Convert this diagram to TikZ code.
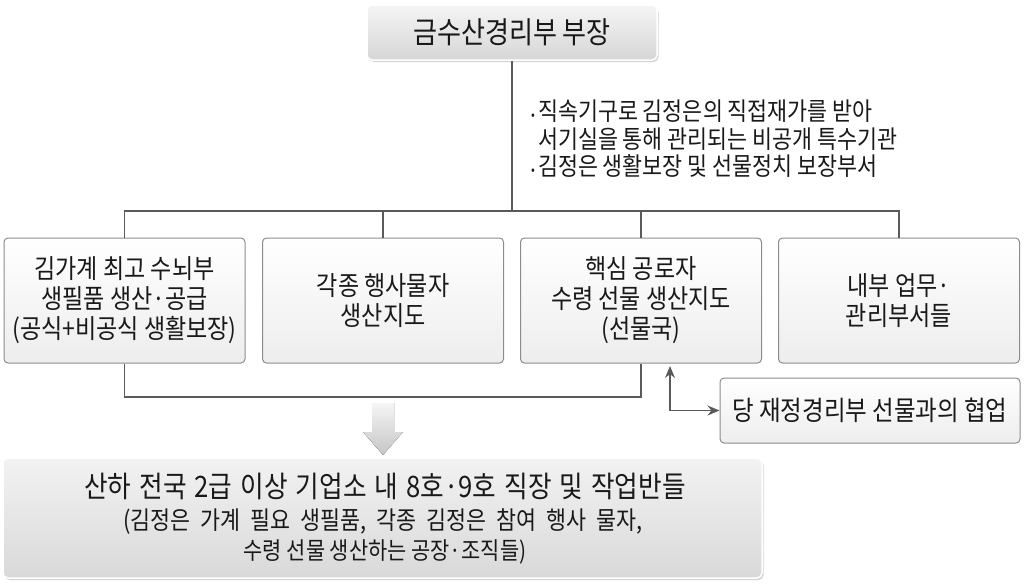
\documentclass[tikz,border=0pt]{standalone}
\usepackage{fontspec}
\setmainfont{Noto Sans CJK KR}[FakeStretch=0.87]
\usetikzlibrary{arrows.meta,shadows,calc}
\definecolor{lc}{HTML}{5A5A5A}
\definecolor{bc}{HTML}{8C8C8C}
\tikzset{
  conn/.style={draw=lc, line width=1.6pt},
  unitbox/.style={draw=bc, line width=1pt, rounded corners=4pt, top color=white, bottom color=gray!14,
    minimum width=241, minimum height=125, align=center, inner sep=0pt,
    font=\fontsize{26.5}{30}\selectfont, text=black!90},
  headbox/.style={draw=white, line width=1.5pt, rounded corners=5pt, top color=gray!8, bottom color=gray!32,
    minimum width=290, minimum height=55, inner sep=0pt, font=\fontsize{30}{32}\selectfont, text=black!90,
    drop shadow={shadow xshift=1.5pt, shadow yshift=-2pt, opacity=0.35}},
  basebox/.style={draw=white, line width=1.5pt, rounded corners=5pt, top color=gray!10, bottom color=gray!30,
    minimum width=759, minimum height=120, inner sep=0pt, align=center,
    drop shadow={shadow xshift=1.5pt, shadow yshift=-2pt, opacity=0.35}},
  basetext/.style={text=black!90, inner sep=0pt},
  ctip/.tip={Stealth[length=12pt,width=10pt]}
}
\begin{document}
\begin{tikzpicture}[x=1pt,y=-1pt]
\useasboundingbox (0,0) rectangle (1024,587);
% head
\node[headbox] (head) at (512,32.5) {금수산경리부 부장};
% notes
\node[anchor=north west, inner sep=0pt, font=\fontsize{25}{24}\selectfont, text=black!90] (notes) at (531,100)
 {\begin{tabular}{@{}l@{\hspace{3pt}}l@{}}
 \raisebox{1pt}{\fontsize{13}{13}\selectfont•} & 직속기구로 김정은의 직접재가를 받아\\
   & 서기실을 통해 관리되는 비공개 특수기관\\[-1pt]
 \raisebox{1pt}{\fontsize{13}{13}\selectfont•} & 김정은 생활보장 및 선물정치 보장부서
 \end{tabular}};
% units
\node[unitbox] (b1) at (124.5,300.5) {김가계 최고 수뇌부\\생필품 생산·공급\\(공식+비공식 생활보장)};
\node[unitbox] (b2) at (383,300.5) {각종 행사물자\\생산지도};
\node[unitbox] (b3) at (641,300.5) {핵심 공로자\\수령 선물 생산지도\\(선물국)};
\node[unitbox] (b4) at (899,300.5) {내부 업무·\\관리부서들};
% bus
\coordinate (bus) at (512,211);
\draw[conn] (head.south) -- (bus);
\draw[conn] (b1.north) |- (bus) -| (b4.north);
\draw[conn] (b2.north) -- (b2.north |- bus);
\draw[conn] (b3.north) -- (b3.north |- bus);
% bottom link
\coordinate (low) at (383,397);
\draw[conn] (b1.south) |- (low) -| (b3.south);
% cooperation
\node[unitbox, minimum width=300, minimum height=65, font=\fontsize{27}{30}\selectfont] (coop) at (870,410.5) {당 재정경리부 선물과의 협업};
\coordinate (cup) at (670,366);
\draw[conn, ctip-ctip] (cup) |- (coop.west);
% big arrow
\fill[top color=gray!8, bottom color=gray!45] (372,403) -- (394,403) -- (394,432) -- (403,432) -- (383,455) -- (363,432) -- (372,432) -- cycle;
% base
\node[basebox] (base) at (382.5,518) {};
\node[basetext, font=\fontsize{29.5}{30}\selectfont] (l1) at (385,486) {\spaceskip=8pt 산하 전국 2급 이상 기업소 내 8호·9호 직장 및 작업반들};
\node[basetext, font=\fontsize{25}{30}\selectfont] (l2) at (383,522) {\spaceskip=10pt (김정은 가계 필요 생필품, 각종 김정은 참여 행사 물자,};
\node[basetext, font=\fontsize{24}{30}\selectfont] (l3) at (385,552) {수령 선물 생산하는 공장·조직들)};
\end{tikzpicture}
\end{document}
